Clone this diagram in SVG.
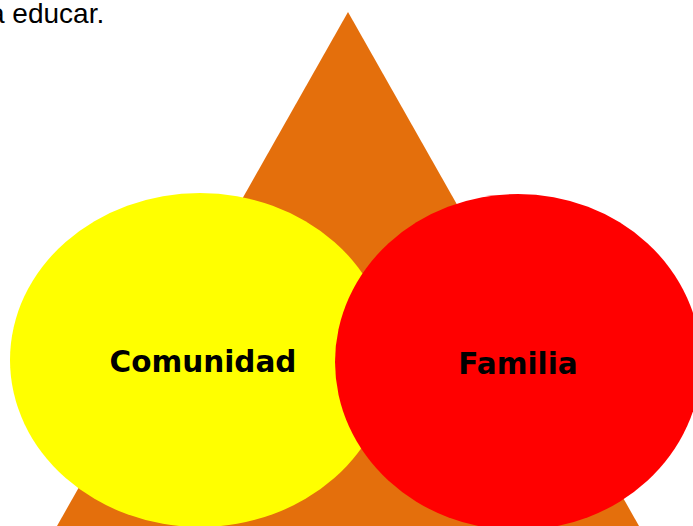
<svg xmlns="http://www.w3.org/2000/svg" width="693" height="526" viewBox="0 0 693 526">
<style>
.lbl{font-family:"DejaVu Sans",sans-serif;font-weight:bold;font-size:29.5px;fill:#000;text-anchor:middle}
.cap{font-family:"Liberation Sans",Arial,sans-serif;font-size:28px;fill:#000}
</style>
<rect width="693" height="526" fill="#fff"/>
<text class="cap" x="-11" y="23">a educar.</text>
<g id="triangulo"><polygon points="348,12 639,526 57,526" fill="#E46F0C"/></g>
<g id="comunidad">
<ellipse cx="200" cy="360" rx="190" ry="167" fill="#FFFF00"/>
<text class="lbl" x="203" y="372">Comunidad</text>
</g>
<g id="familia">
<ellipse cx="518" cy="362" rx="183" ry="168" fill="#FF0000"/>
<text class="lbl" x="518" y="374">Familia</text>
</g>
<g id="connectors"/>
</svg>
